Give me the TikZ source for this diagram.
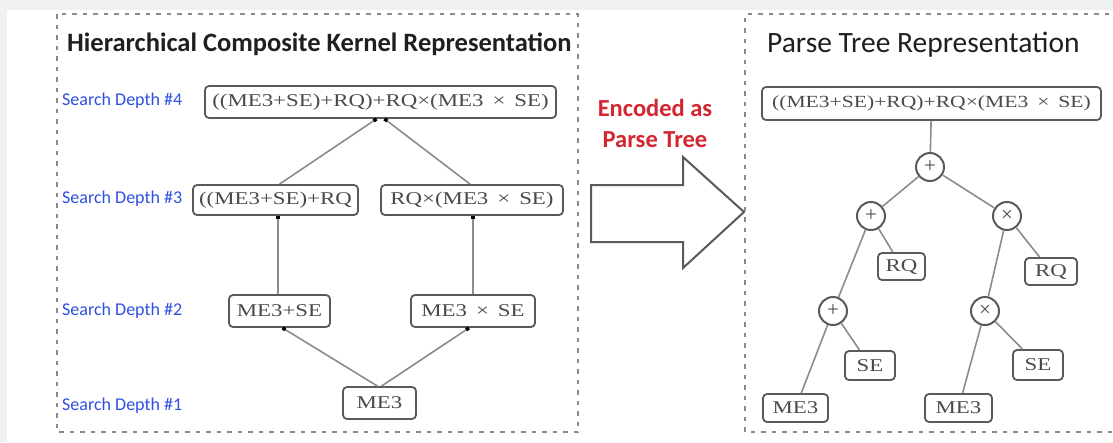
\documentclass[tikz,border=0pt]{standalone}
\usepackage{fontspec}
\usetikzlibrary{arrows.meta}
\newfontfamily\boxfont[FakeStretch=1.27]{Liberation Serif}
\newfontfamily\opfont{Liberation Serif}
\newfontfamily\calfont{Carlito}
\definecolor{bgc}{HTML}{EEF0F2}
\definecolor{boxc}{HTML}{5A5A5A}
\definecolor{txtc}{HTML}{4A4A4A}
\definecolor{edgec}{HTML}{8C8C8C}
\definecolor{dashc}{HTML}{8A8A8A}
\definecolor{bluec}{HTML}{3050E0}
\definecolor{redc}{HTML}{D42630}
\tikzset{
  x=1pt, y=-1pt,
  kbox/.style={draw=boxc, line width=1.8pt, rounded corners=4pt, fill=white, text=txtc,
    font=\boxfont\fontsize{18}{18}\selectfont, inner sep=0pt, minimum height=30pt},
  opc/.style={circle, draw=boxc, line width=2pt, fill=white, text=txtc,
    font=\opfont\fontsize{21}{21}\selectfont, inner sep=0pt, minimum size=28pt},
  kedge/.style={draw=edgec, line width=1.6pt, -{Square[length=3.5pt,width=3.5pt,color=black]}},
  tedge/.style={draw=edgec, line width=1.6pt},
  dbox/.style={draw=dashc, line width=2.2pt, dash pattern=on 4.5pt off 6pt},
  dlabel/.style={anchor=west, text=bluec, font=\calfont\fontsize{18}{18}\selectfont, inner sep=0pt},
  ttl/.style={anchor=west, text=black!88, inner sep=0pt},
}
\begin{document}
\begin{tikzpicture}
\useasboundingbox (0,0) rectangle (1113,442);
\fill[bgc] (0,0) rectangle (1113,442);
\fill[white] (7,10) rectangle (1113,442);
% dashed panels
\draw[dbox] (57,14) rectangle (578,432);
\draw[dbox] (1130,14) -- (745,14) -- (745,432) -- (1130,432);
% titles
\node[ttl, font=\calfont\bfseries\fontsize{26.5}{26.5}\selectfont] (t1) at (67,44) {Hierarchical Composite Kernel Representation};
\node[ttl, font=\calfont\fontsize{29.5}{29.5}\selectfont] (t2) at (767,45) {Parse Tree Representation};
% depth labels
\node[dlabel] (s4) at (62,101) {Search Depth \#4};
\node[dlabel] (s3) at (62,199) {Search Depth \#3};
\node[dlabel] (s2) at (62,311) {Search Depth \#2};
\node[dlabel] (s1) at (62,406) {Search Depth \#1};
\coordinate (pc1) at (930,167);
\coordinate (pc2) at (871,216);
\coordinate (pc3) at (1007,216);
\coordinate (pc4) at (833,311);
\coordinate (pc5) at (985,311);
% left panel nodes
\node[kbox, minimum width=351pt, minimum height=32pt] (d4) at (380.5,102) {((ME3+SE)+RQ)+RQ×(ME3\hspace{9pt}×\hspace{9pt}SE)};
\node[kbox, minimum width=165pt] (l3) at (275.5,200) {((ME3+SE)+RQ};
\node[kbox, minimum width=182pt] (r3) at (472,200) {RQ×(ME3\hspace{9pt}×\hspace{9pt}SE)};
\node[kbox, minimum width=101pt, minimum height=32pt] (l2) at (279.5,311) {ME3+SE};
\node[kbox, minimum width=124pt, minimum height=32pt] (r2) at (473,311) {ME3\hspace{9pt}×\hspace{9pt}SE};
\node[kbox, minimum width=73pt, minimum height=32pt] (d1) at (379.5,403) {ME3};
% left panel edges
\draw[kedge] ([xshift=-2pt]d1.north) -- ([xshift=3pt]l2.south);
\draw[kedge] ([xshift=2pt]d1.north) -- ([xshift=-4pt]r2.south);
\draw[kedge] ([xshift=-1.5pt]l2.north) -- ([xshift=2.5pt]l3.south);
\draw[kedge] (r2.north) -- (r2.north |- r3.south);
\draw[kedge] ([xshift=4pt]l3.north) -- ([xshift=-4pt]d4.south);
\draw[kedge] ([xshift=-2pt]r3.north) -- ([xshift=4pt]d4.south);
% encoded arrow
\draw[draw=boxc, line width=2pt, fill=white, line join=miter]
  (591,185) -- (683,185) -- (683,157) -- (744,212) -- (683,268) -- (683,242) -- (591,242) -- cycle;
\node[text=redc, font=\calfont\bfseries\fontsize{24.5}{31}\selectfont, align=center, inner sep=0pt] (enc) at (655,123) {Encoded as\\Parse Tree};
% right panel nodes
\node[kbox, font=\boxfont\fontsize{17}{17}\selectfont, minimum width=339pt, minimum height=33pt] (top) at (931.5,103.5) {((ME3+SE)+RQ)+RQ×(ME3\hspace{9pt}×\hspace{9pt}SE)};
\node[opc] (c1) at (pc1) {+};
\node[opc] (c2) at (pc2) {+};
\node[opc] (c3) at (pc3) {×};
\node[opc] (c4) at (pc4) {+};
\node[opc] (c5) at (pc5) {×};
\node[kbox, minimum width=47pt, minimum height=27pt] (rq1) at (901.5,266.5) {RQ};
\node[kbox, minimum width=52pt, minimum height=27pt] (rq2) at (1051,271.5) {RQ};
\node[kbox, minimum width=50pt, minimum height=29pt] (se1) at (870,365.5) {SE};
\node[kbox, minimum width=50pt, minimum height=30pt] (se2) at (1038,365) {SE};
\node[kbox, minimum width=65pt, minimum height=28pt] (me1) at (795.5,408) {ME3};
\node[kbox, minimum width=67pt, minimum height=28pt] (me2) at (958.5,408) {ME3};
% right panel edges
\draw[tedge] (top) -- (c1);
\draw[tedge] (c1) -- (c2);
\draw[tedge] (c1) -- (c3);
\draw[tedge] (c2) -- (rq1);
\draw[tedge] (c2) -- (c4);
\draw[tedge] (c3) -- (rq2);
\draw[tedge] (c3) -- (c5);
\draw[tedge] (c4) -- (se1);
\draw[tedge] (c4) -- (me1);
\draw[tedge] (c5) -- (se2);
\draw[tedge] (c5) -- (me2);
\end{tikzpicture}
\end{document}
